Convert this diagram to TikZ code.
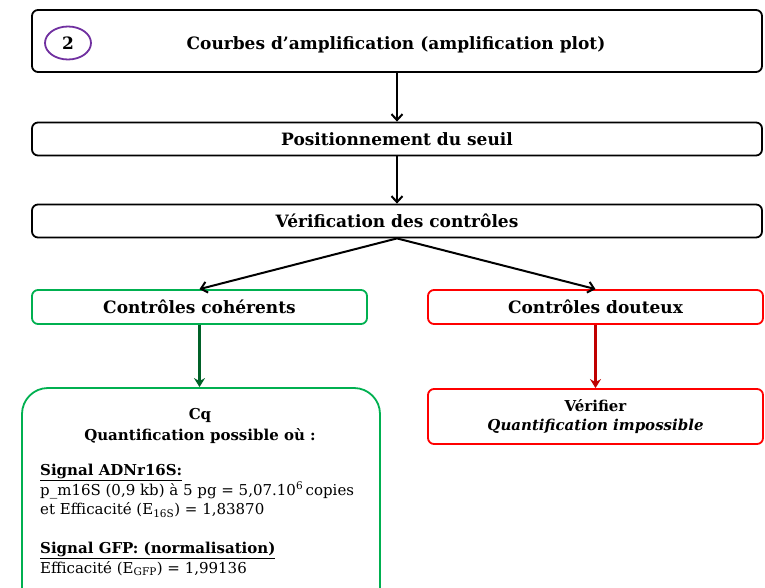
\documentclass[tikz,border=0pt]{standalone}
\usepackage{fontspec}
\setmainfont{DejaVu Serif}
\usetikzlibrary{arrows.meta, shapes.geometric}
\definecolor{vert}{RGB}{0,176,80}
\definecolor{vertfonce}{RGB}{0,97,40}
\definecolor{rouge}{RGB}{255,0,0}
\definecolor{rougefonce}{RGB}{192,0,0}
\definecolor{violet}{RGB}{112,48,160}
\tikzset{
    boite/.style={draw, line width=1.8pt, rounded corners=6pt, inner sep=0pt},
    titre/.style={font=\fontsize{17}{19}\selectfont\bfseries, align=center},
    soustitre/.style={font=\fontsize{15}{21}\selectfont\bfseries, align=center},
    corps/.style={font=\fontsize{15}{19.5}\selectfont, align=left, inner sep=0pt},
    fleche/.style={-{Straight Barb[length=6pt, width=11pt]}, line width=2pt},
    flechecouleur/.style={-{Stealth[length=9pt, width=11pt, inset=3pt]}, line width=2.2pt},
}

\begin{document}
\begin{tikzpicture}[x=1pt, y=-1pt]
        \useasboundingbox (0,0) rectangle (765,588);
        \node[boite, minimum width=730, minimum height=62] (ampli) at (397,41) {};
        \node[titre] (amplititre) at (396,45) {Courbes d’amplification (amplification plot)};
        \node[draw=violet, line width=1.8pt, ellipse, minimum width=46, minimum height=33, inner sep=0pt, font=\fontsize{17}{19}\selectfont\bfseries] (num) at (68,43) {2};
        \node[boite, minimum width=730, minimum height=33, titre] (seuil) at (397,139) {Positionnement du seuil};
        \node[boite, minimum width=730, minimum height=33, titre] (verif) at (397,221) {Vérification des contrôles};
        \node[boite, draw=vert, minimum width=335, minimum height=34, titre] (coherents) at (199.5,307) {Contrôles cohérents};
        \node[boite, draw=rouge, minimum width=335, minimum height=34, titre] (douteux) at (595.5,307) {Contrôles douteux};
        \node[boite, draw=vert, rounded corners=26pt, minimum width=358, minimum height=230] (cq) at (201,503) {};
        \node[soustitre] (cqtitre) at (200,426) {Cq\\Quantification possible où :};
        \node[corps, anchor=north west] (cqtexte) at (40,464) {%
            \textbf{\underline{Signal ADNr16S:}}\\
            p\_m16S (0,9 kb) à 5 pg = 5,07.10\textsuperscript{6}\,copies\\
            et Efficacité (E\textsubscript{16S}) = 1,83870\\[19.5pt]
            \textbf{\underline{Signal GFP: (normalisation)}}\\
            Efficacité (E\textsubscript{GFP}) = 1,99136};
        \node[boite, draw=rouge, minimum width=335, minimum height=55, soustitre, font=\fontsize{15}{19}\selectfont\bfseries] (verifier) at (595.5,416.5) {Vérifier\\\textit{Quantification impossible}};
        \draw[fleche] (ampli.south) -- (seuil.north);
        \draw[fleche] (seuil.south) -- (verif.north);
        \draw[fleche] (verif.south) -- (coherents.north);
        \draw[fleche] (verif.south) -- (douteux.north);
        \draw[flechecouleur, vertfonce] (coherents.south) -- (cq.north -| coherents.south);
        \draw[flechecouleur, rougefonce] (douteux.south) -- (verifier.north);
    \end{tikzpicture}
\end{document}
